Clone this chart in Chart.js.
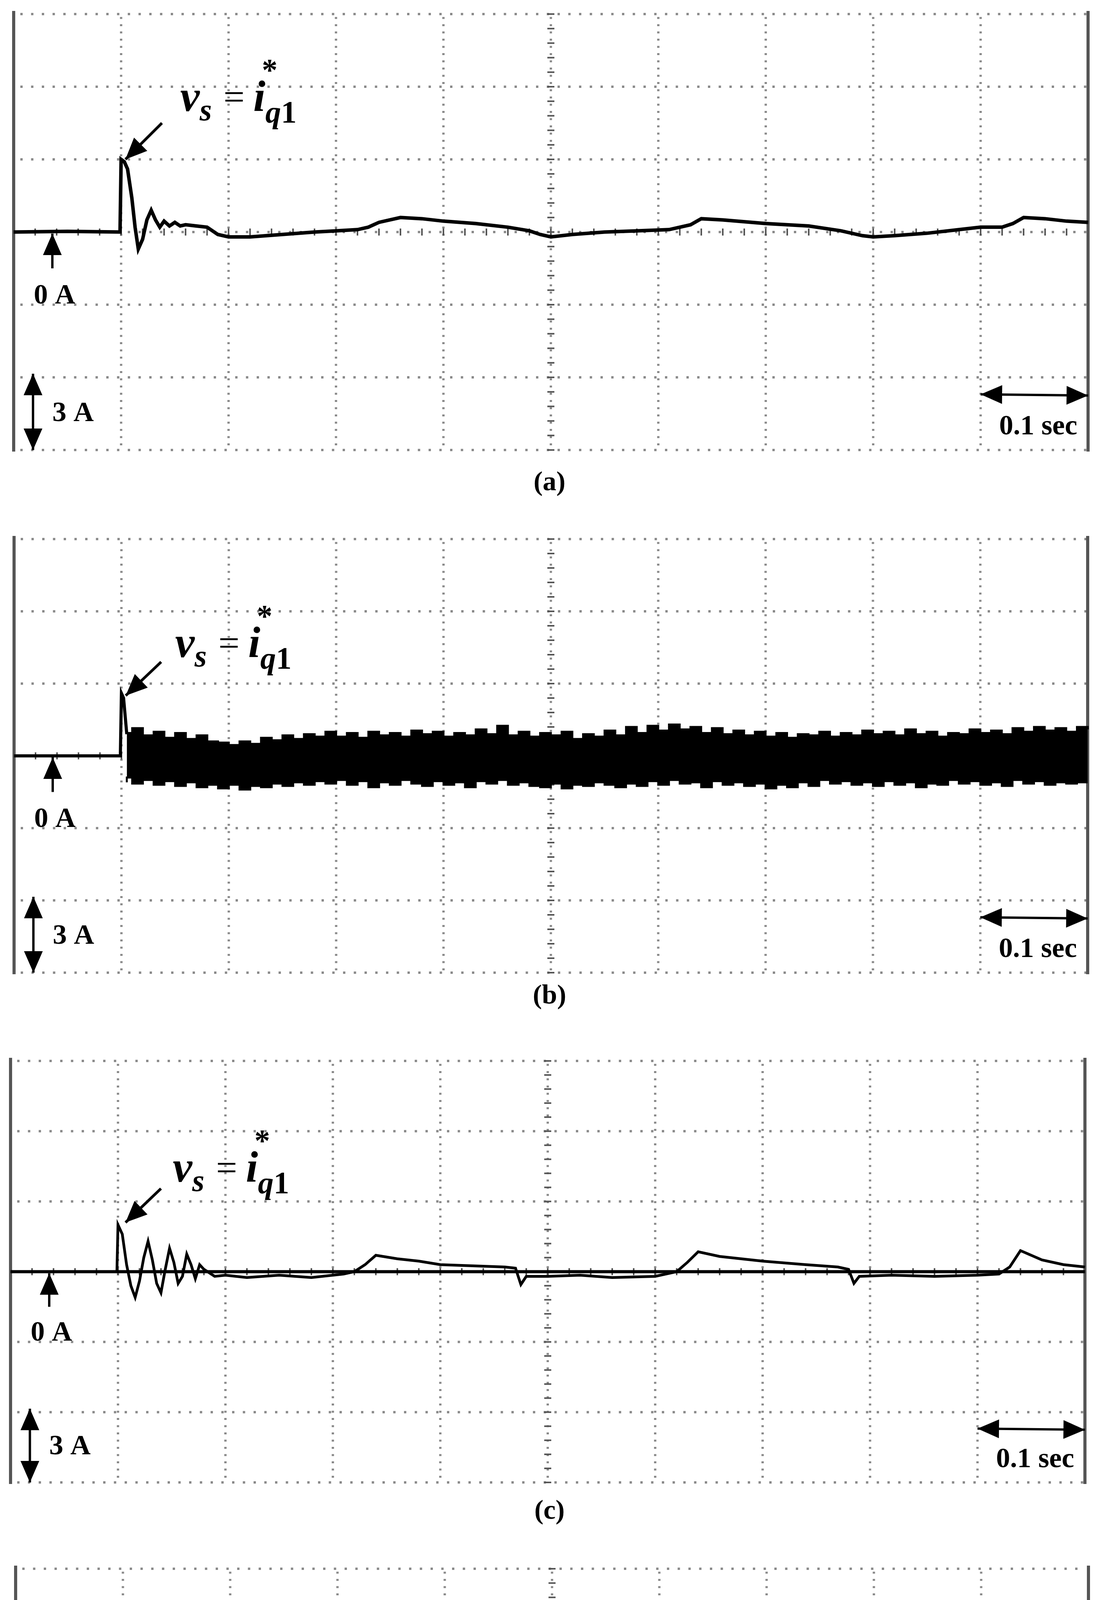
<!DOCTYPE html>
<html>
<head>
<meta charset="utf-8">
<script src="https://cdn.jsdelivr.net/npm/chart.js@4.4.1/dist/chart.umd.min.js"></script>
<style>
  body { margin: 0; background: #fff; width: 2813px; height: 5256px; position: relative; overflow: hidden; }
  .panel { position: absolute; }
  .cap { position: absolute; left: 0; width: 2813px; text-align: center; font: bold 70px "Liberation Serif", serif; }
</style>
</head>
<body>
<div class="panel" id="pa"><canvas id="ca"></canvas></div>
<div class="panel" id="pb"><canvas id="cb"></canvas></div>
<div class="panel" id="pc"><canvas id="cc"></canvas></div>
<div class="panel" id="pd"><canvas id="cd"></canvas></div>
<div class="cap" style="top:1192px">(a)</div>
<div class="cap" style="top:2506px">(b)</div>
<div class="cap" style="top:3825px">(c)</div>
<div class="cap" style="top:5160px">(d)</div>
<script>
// axes: time in s (0.1 s/div), current in A (3 A/div)
const xTicks = [0, 0.1, 0.2, 0.3, 0.4, 0.5, 0.6, 0.7, 0.8, 0.9, 1.0];
const yTicks = [-9, -6, -3, 0, 3, 6, 9];

// (a) single trace
const tA = [0, 0.05, 0.099, 0.1, 0.103, 0.106, 0.11, 0.113, 0.116, 0.12,
            0.124, 0.128, 0.132, 0.136, 0.14, 0.145, 0.15, 0.155, 0.16, 0.17,
            0.18, 0.19, 0.2, 0.22, 0.25, 0.28, 0.3, 0.32, 0.33, 0.34,
            0.36, 0.38, 0.4, 0.43, 0.46, 0.48, 0.49, 0.5, 0.52, 0.55,
            0.58, 0.61, 0.63, 0.64, 0.66, 0.7, 0.74, 0.77, 0.79, 0.8,
            0.82, 0.85, 0.88, 0.9, 0.92, 0.93, 0.94, 0.96, 0.98, 1.0];
const iA = [0, 0.03, 0, 3.0, 2.9, 2.6, 1.4, 0.2, -0.7, -0.3,
            0.5, 0.9, 0.5, 0.2, 0.45, 0.25, 0.4, 0.25, 0.3, 0.25,
            0.2, -0.1, -0.2, -0.2, -0.1, 0, 0.05, 0.1, 0.2, 0.4,
            0.6, 0.55, 0.45, 0.35, 0.2, 0.05, -0.1, -0.2, -0.1, 0,
            0.05, 0.1, 0.3, 0.55, 0.5, 0.35, 0.25, 0.05, -0.15, -0.2,
            -0.15, -0.05, 0.1, 0.2, 0.2, 0.35, 0.6, 0.55, 0.45, 0.4];

// (b) step then noisy band (upper / lower envelope)
const tB0 = [0, 0.099, 0.1, 0.102, 0.105];
const iB0 = [0, 0, 2.6, 2.4, 0.9];
const tB = [0.105, 0.11, 0.12, 0.13, 0.14, 0.15, 0.16, 0.17, 0.18, 0.19,
            0.2, 0.21, 0.22, 0.23, 0.24, 0.25, 0.26, 0.27, 0.28, 0.29,
            0.3, 0.31, 0.32, 0.33, 0.34, 0.35, 0.36, 0.37, 0.38, 0.39,
            0.4, 0.41, 0.42, 0.43, 0.44, 0.45, 0.46, 0.47, 0.48, 0.49,
            0.5, 0.51, 0.52, 0.53, 0.54, 0.55, 0.56, 0.57, 0.58, 0.59,
            0.6, 0.61, 0.62, 0.63, 0.64, 0.65, 0.66, 0.67, 0.68, 0.69,
            0.7, 0.71, 0.72, 0.73, 0.74, 0.75, 0.76, 0.77, 0.78, 0.79,
            0.8, 0.81, 0.82, 0.83, 0.84, 0.85, 0.86, 0.87, 0.88, 0.89,
            0.9, 0.91, 0.92, 0.93, 0.94, 0.95, 0.96, 0.97, 0.98, 0.99,
            1.0];
const bHi = [0.95, 1.15, 0.85, 1.0, 0.75, 0.95, 0.7, 0.85, 0.6, 0.55,
             0.45, 0.6, 0.5, 0.75, 0.65, 0.85, 0.7, 0.9, 0.8, 1.0,
             0.8, 0.95, 0.75, 1.0, 0.85, 0.95, 0.8, 1.05, 0.9, 1.0,
             0.8, 0.95, 0.85, 1.1, 0.9, 1.25, 0.85, 1.0, 0.8, 0.95,
             0.85, 1.0, 0.7, 0.9, 0.8, 1.05, 0.85, 1.2, 0.95, 1.25,
             1.05, 1.3, 1.1, 1.2, 0.95, 1.15, 0.9, 1.05, 0.85, 1.0,
             0.8, 0.95, 0.75, 0.9, 0.85, 1.0, 0.8, 0.95, 0.85, 1.05,
             0.9, 1.0, 0.85, 1.1, 0.9, 1.0, 0.8, 0.95, 0.9, 1.1,
             0.95, 1.05, 0.9, 1.15, 1.0, 1.2, 1.05, 1.15, 1.0, 1.2,
             1.1];
const bLo = [-1.1, -0.9, -1.15, -1.0, -1.2, -1.05, -1.25, -1.1, -1.3, -1.2,
             -1.35, -1.2, -1.4, -1.25, -1.3, -1.15, -1.25, -1.1, -1.2, -1.05,
             -1.15, -1.0, -1.2, -1.05, -1.3, -1.1, -1.2, -1.0, -1.15, -1.25,
             -1.05, -1.2, -1.1, -1.3, -1.05, -1.15, -1.0, -1.2, -1.1, -1.25,
             -1.3, -1.15, -1.35, -1.2, -1.25, -1.1, -1.2, -1.3, -1.15, -1.25,
             -1.05, -1.2, -1.0, -1.15, -1.1, -1.3, -1.05, -1.2, -1.1, -1.25,
             -1.15, -1.35, -1.2, -1.3, -1.1, -1.25, -1.0, -1.15, -1.05, -1.2,
             -1.1, -1.25, -1.05, -1.2, -1.1, -1.3, -1.15, -1.2, -1.0, -1.15,
             -1.05, -1.2, -1.1, -1.25, -1.0, -1.15, -1.05, -1.2, -1.1, -1.15,
             -1.1];

// (c) reference at 0 and trace
const tC = [0, 0.099, 0.1, 0.104, 0.108, 0.112, 0.116, 0.12, 0.124, 0.128,
            0.132, 0.136, 0.14, 0.144, 0.148, 0.152, 0.156, 0.16, 0.164, 0.168,
            0.172, 0.176, 0.18, 0.19, 0.2, 0.22, 0.25, 0.28, 0.3, 0.31,
            0.32, 0.33, 0.34, 0.36, 0.38, 0.4, 0.43, 0.46, 0.47, 0.475,
            0.48, 0.5, 0.53, 0.56, 0.6, 0.62, 0.63, 0.64, 0.66, 0.7,
            0.74, 0.77, 0.78, 0.785, 0.79, 0.82, 0.86, 0.9, 0.92, 0.93,
            0.94, 0.96, 0.98, 1.0];
const iC = [0, 0, 2.0, 1.6, 0.3, -0.6, -1.1, -0.4, 0.6, 1.3,
            0.5, -0.5, -0.9, 0.1, 1.0, 0.4, -0.5, -0.2, 0.75, 0.3,
            -0.3, 0.3, 0.1, -0.2, -0.15, -0.25, -0.15, -0.25, -0.15, -0.1,
            0, 0.3, 0.7, 0.55, 0.45, 0.3, 0.25, 0.2, 0.15, -0.55,
            -0.2, -0.2, -0.15, -0.25, -0.2, 0, 0.4, 0.85, 0.65, 0.45,
            0.3, 0.2, 0.1, -0.5, -0.2, -0.15, -0.2, -0.15, -0.1, 0.2,
            0.9, 0.5, 0.3, 0.2];

// (d) envelope of the thick trace
const tD = [0, 0.099, 0.1, 0.102, 0.11, 0.119, 0.128, 0.135, 0.145, 0.155,
            0.165, 0.171, 0.181, 0.19, 0.2, 0.21, 0.22, 0.23, 0.25, 0.27,
            0.29, 0.31, 0.322, 0.33, 0.351, 0.362, 0.38, 0.4, 0.42, 0.44,
            0.456, 0.475, 0.49, 0.499, 0.51, 0.53, 0.56, 0.59, 0.62, 0.646,
            0.66, 0.69, 0.72, 0.75, 0.77, 0.785, 0.8, 0.82, 0.85, 0.88,
            0.915, 0.93, 0.951, 0.965, 0.98, 1.0];
const dHi = [0, 0, 3.25, 0.75, 0.5, -0.3, 0.4, 0.75, 0.5, 0.45,
             0.45, 0.5, 0, -0.5, -0.8, -0.7, -0.55, -0.3, -0.35, -0.3,
             -0.35, -0.3, -0.25, 0, 1.2, 0.5, 0.85, 0.8, 0.85, 0.8,
             0.6, 0, -0.6, -0.8, -0.6, -0.1, 0, 0.05, 0.1, 1.2,
             0.9, 0.9, 0.85, 0.8, 0.6, 0, -0.7, -0.4, -0.3, -0.3,
             -0.1, 0.3, 1.0, 0.6, 0.6, 0.6];
const dLo = [0, 0, 0, 0.7, 0.3, -0.4, 0.3, 0.7, 0.3, 0.2,
             0.25, 0.35, -0.1, -0.7, -1.1, -1.0, -0.75, -0.6, -0.75, -0.7,
             -0.75, -0.7, -0.6, -0.05, 1.15, 0.4, 0.35, 0.3, 0.3, 0.2,
             0.1, -0.3, -0.9, -1.05, -0.9, -0.6, -0.5, -0.45, -0.3, 1.1,
             0.5, 0.4, 0.4, 0.3, 0.1, -0.4, -1.0, -0.8, -0.7, -0.7,
             -0.5, 0.2, 0.9, 0.3, 0.3, 0.3];

const pts = (t, v) => t.map((x, i) => ({ x: x, y: v[i] }));

const panels = [
  { id: 'a', left: 35, right: 2785, top: 36, bottom: 1152, vs: [0.155, 5.0, 0.138, 4.5, 0.104, 3.0],
    datasets: [{ data: pts(tA, iA), borderWidth: 9 }] },
  { id: 'b', left: 36, right: 2784, top: 1380, bottom: 2490, vs: [0.150, 4.1, 0.137, 3.9, 0.104, 2.5],
    datasets: [
      { data: pts(tB0, iB0), borderWidth: 8 },
      { data: pts(tB, bHi), borderWidth: 5, stepped: 'before' },
      { data: pts(tB, bLo), borderWidth: 5, stepped: 'after', fill: '-1' }] },
  { id: 'c', left: 27, right: 2777, top: 2716, bottom: 3795, vs: [0.151, 3.85, 0.14, 3.55, 0.107, 2.1],
    datasets: [
      { data: pts([0, 1], [0, 0]), borderWidth: 8 },
      { data: pts(tC, iC), borderWidth: 7 }] },
  { id: 'd', left: 40, right: 2786, top: 4016, bottom: 5115, vs: [0.14, 4.1, 0.135, 3.5, 0.102, 2.2],
    datasets: [
      { data: pts(tD, dHi), borderWidth: 7 },
      { data: pts(tD, dLo), borderWidth: 7, fill: '-1' }] }
];

function arrowHead(ctx, x1, y1, x2, y2, len, wid) {
  const a = Math.atan2(y2 - y1, x2 - x1);
  ctx.beginPath();
  ctx.moveTo(x2, y2);
  ctx.lineTo(x2 - len * Math.cos(a) + wid * Math.sin(a), y2 - len * Math.sin(a) - wid * Math.cos(a));
  ctx.lineTo(x2 - len * Math.cos(a) - wid * Math.sin(a), y2 - len * Math.sin(a) + wid * Math.cos(a));
  ctx.closePath();
  ctx.fill();
}
function arrow(ctx, x1, y1, x2, y2, both) {
  ctx.beginPath(); ctx.moveTo(x1, y1); ctx.lineTo(x2, y2); ctx.stroke();
  arrowHead(ctx, x1, y1, x2, y2, 55, 24);
  if (both) arrowHead(ctx, x2, y2, x1, y1, 55, 24);
}

const scopePlugin = {
  id: 'scope',
  beforeDatasetsDraw(chart) {
    const { ctx, scales: { x, y } } = chart;
    const L = x.getPixelForValue(0), R = x.getPixelForValue(1);
    const T = y.getPixelForValue(9), B = y.getPixelForValue(-9);
    ctx.save();
    ctx.fillStyle = '#8a8a8a';
    yTicks.forEach(v => {
      const py = y.getPixelForValue(v);
      for (let px = L + 20; px < R - 5; px += 27.5) ctx.fillRect(px - 3, py - 3, 6, 6);
    });
    xTicks.forEach(v => {
      if (v === 0 || v === 1) return;
      const px = x.getPixelForValue(v);
      for (let py = T + 10; py < B; py += 18.5) ctx.fillRect(px - 3, py - 2.5, 6, 5);
    });
    // centre axes minor ticks
    ctx.fillStyle = '#555';
    const cx = x.getPixelForValue(0.5), cy = y.getPixelForValue(0);
    for (let v = -9; v <= 9.001; v += 0.6) ctx.fillRect(cx - 9, y.getPixelForValue(v) - 2, 18, 4);
    for (let v = 0; v <= 1.0001; v += 0.02) ctx.fillRect(x.getPixelForValue(v) - 2, cy - 9, 4, 18);
    // side borders
    ctx.fillStyle = '#555';
    ctx.fillRect(L - 4, T - 8, 8, B - T + 12);
    ctx.fillRect(R - 4, T - 8, 8, B - T + 12);
    ctx.restore();
  },
  afterDatasetsDraw(chart, args, opts) {
    const { ctx, scales: { x, y } } = chart;
    const X = v => x.getPixelForValue(v), Y = v => y.getPixelForValue(v);
    const vs = opts.vs;
    const serif = '"Liberation Serif", "DejaVu Serif", serif';
    ctx.save();
    ctx.fillStyle = '#000'; ctx.strokeStyle = '#000'; ctx.lineWidth = 7;
    // v_s = i*_q1
    arrow(ctx, X(vs[2]), Y(vs[3]), X(vs[4]), Y(vs[5]), false);
    let px = X(vs[0]); const by = Y(vs[1]);
    ctx.textBaseline = 'alphabetic'; ctx.textAlign = 'left';
    const seg = (txt, font, dy) => { ctx.font = font; ctx.fillText(txt, px, by + dy); px += ctx.measureText(txt).width; };
    seg('v', 'bold italic 112px ' + serif, 0);
    seg('s', 'bold italic 80px ' + serif, 24);
    px += 30;
    seg('=', '96px ' + serif, -4);
    px += 22;
    const ix = px;
    seg('i', 'bold italic 112px ' + serif, 0);
    ctx.font = 'bold 80px ' + serif;
    ctx.fillText('*', ix + 22, by - 78);
    seg('q', 'bold italic 80px ' + serif, 30);
    seg('1', 'bold 80px ' + serif, 30);
    // 0 A marker
    ctx.lineWidth = 6;
    arrow(ctx, X(0.036), Y(-1.5), X(0.036), Y(0) + 4, false);
    ctx.font = 'bold 72px ' + serif; ctx.textAlign = 'center';
    ctx.fillText('0 A', X(0.038), Y(-2.95));
    // 3 A marker
    arrow(ctx, X(0.018), Y(-5.85), X(0.018), Y(-9), true);
    ctx.textAlign = 'left';
    ctx.fillText('3 A', X(0.036), Y(-7.8));
    // 0.1 sec marker
    arrow(ctx, X(0.9), Y(-6.7), X(1.0), Y(-6.75), true);
    ctx.textAlign = 'right';
    ctx.fillText('0.1 sec', X(0.99), Y(-8.35));
    ctx.restore();
  }
};

panels.forEach(p => {
  const pad = 40;
  const div = document.getElementById('p' + p.id);
  const w = p.right - p.left + 2 * pad, h = p.bottom - p.top + 2 * pad;
  div.style.left = (p.left - pad) + 'px';
  div.style.top = (p.top - pad) + 'px';
  div.style.width = w + 'px';
  div.style.height = h + 'px';
  p.datasets.forEach(d => {
    d.borderColor = '#000';
    d.backgroundColor = '#000';
    d.pointRadius = 0;
    d.tension = 0;
    d.clip = false;
    if (d.fill === undefined) d.fill = false;
  });
  new Chart(document.getElementById('c' + p.id), {
    type: 'line',
    data: { datasets: p.datasets },
    plugins: [scopePlugin],
    options: {
      responsive: true,
      maintainAspectRatio: false,
      devicePixelRatio: 1,
      animation: false,
      layout: { padding: pad },
      scales: {
        x: { type: 'linear', min: 0, max: 1, display: false },
        y: { type: 'linear', min: -9, max: 9, display: false }
      },
      plugins: { legend: { display: false }, tooltip: { enabled: false }, scope: { vs: p.vs } }
    }
  });
});
</script>
</body>
</html>
